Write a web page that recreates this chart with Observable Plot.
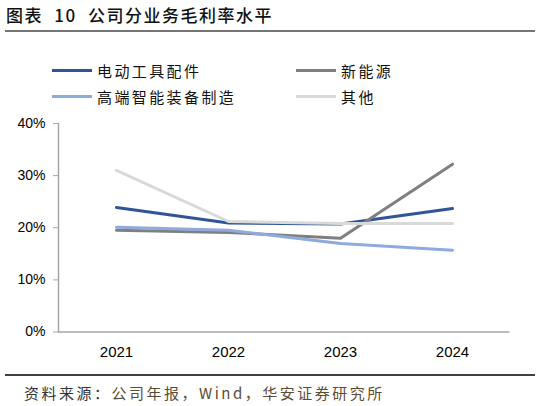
<!DOCTYPE html>
<html>
<head>
<meta charset="utf-8">
<script src="https://cdn.jsdelivr.net/npm/d3@7"></script>
<script src="https://cdn.jsdelivr.net/npm/@observablehq/plot@0.6"></script>
<style>
  html, body { margin: 0; padding: 0; background: #fff; }
  #wrap { position: relative; width: 541px; height: 406px; overflow: hidden; font-family: "Noto Sans CJK SC", sans-serif; }
  #title { position: absolute; left: 6px; top: 4px; font-size: 17px; font-weight: 500; letter-spacing: 1.5px; word-spacing: 6px; color: #111; line-height: 22px; white-space: nowrap; }
  #rule1 { position: absolute; left: 5px; width: 530px; top: 30px; height: 2px; background: #767676; }
  .leg { position: absolute; display: flex; align-items: center; height: 20px; font-size: 15px; letter-spacing: 2.4px; color: #111; white-space: nowrap; }
  .leg .sw { display: inline-block; width: 40px; height: 3px; margin-right: 5px; }
  #chart { position: absolute; left: 0; top: 100px; }
  #rule2 { position: absolute; left: 5px; width: 530px; top: 374px; height: 1.5px; background: #404040; }
  #source { position: absolute; left: 24px; top: 383px; font-size: 15px; letter-spacing: 2.5px; line-height: 20px; white-space: nowrap; color: #333; }
  #source .s2 { color: #5a4b33; }
</style>
</head>
<body>
<div id="wrap">
  <div id="title">图表 10 公司分业务毛利率水平</div>
  <div id="rule1"></div>
  <div id="legend"></div>
  <div id="chart"></div>
  <div id="rule2"></div>
  <div id="source">资料来源：<span class="s2">公司年报，Wind，华安证券研究所</span></div>
</div>
<script>
const years = ["2021", "2022", "2023", "2024"];
const seriesNames = ["电动工具配件", "新能源", "高端智能装备制造", "其他"];
const toolParts = [23.9, 20.9, 20.7, 23.7];
const newEnergy = [19.5, 19.1, 18.0, 32.2];
const highEndEquip = [20.1, 19.5, 17.0, 15.7];
const others = [31.0, 21.2, 20.8, 20.8];
const seriesColors = ["#2F5597", "#7F7F7F", "#8FAADC", "#D9D9D9"];
const yTicks = [0, 10, 20, 30, 40];

const seriesValues = [toolParts, newEnergy, highEndEquip, others];
const data = [];
seriesNames.forEach((s, i) => years.forEach((y, j) => data.push({series: s, year: y, value: seriesValues[i][j]})));

// legend
const legendPos = [[52, 60], [296, 60], [52, 86], [296, 86]];
const legend = document.getElementById("legend");
seriesNames.forEach((s, i) => {
  const d = document.createElement("div");
  d.className = "leg";
  d.style.left = legendPos[i][0] + "px";
  d.style.top = legendPos[i][1] + "px";
  d.innerHTML = `<span class="sw" style="background:${seriesColors[i]}"></span><span>${s}</span>`;
  legend.appendChild(d);
});

const chart = Plot.plot({
  width: 541,
  height: 265,
  marginTop: 23,
  marginBottom: 33.5,
  marginLeft: 58,
  marginRight: 31.5,
  style: {fontFamily: "'Liberation Sans', Arial, sans-serif", fontSize: "15px", color: "#000", background: "transparent"},
  x: {type: "point", domain: years, padding: 0.5},
  y: {domain: [0, 40]},
  color: {domain: seriesNames, range: seriesColors},
  marks: [
    Plot.frame({anchor: "left", stroke: "#a6a6a6", strokeWidth: 1.5}),
    Plot.axisY({ticks: yTicks, tickSize: 5, tickPadding: 8, tickFormat: d => d + "%", stroke: "#a6a6a6", label: null, fontSize: 14}),
    Plot.ruleY([0], {stroke: "#a6a6a6", strokeWidth: 1.5}),
    Plot.axisX({tickSize: 0, tickPadding: 14.5, label: null, fontSize: 15}),
    Plot.line(data, {x: "year", y: "value", z: "series", stroke: "series", strokeWidth: 3})
  ]
});
document.getElementById("chart").appendChild(chart);
</script>
</body>
</html>
